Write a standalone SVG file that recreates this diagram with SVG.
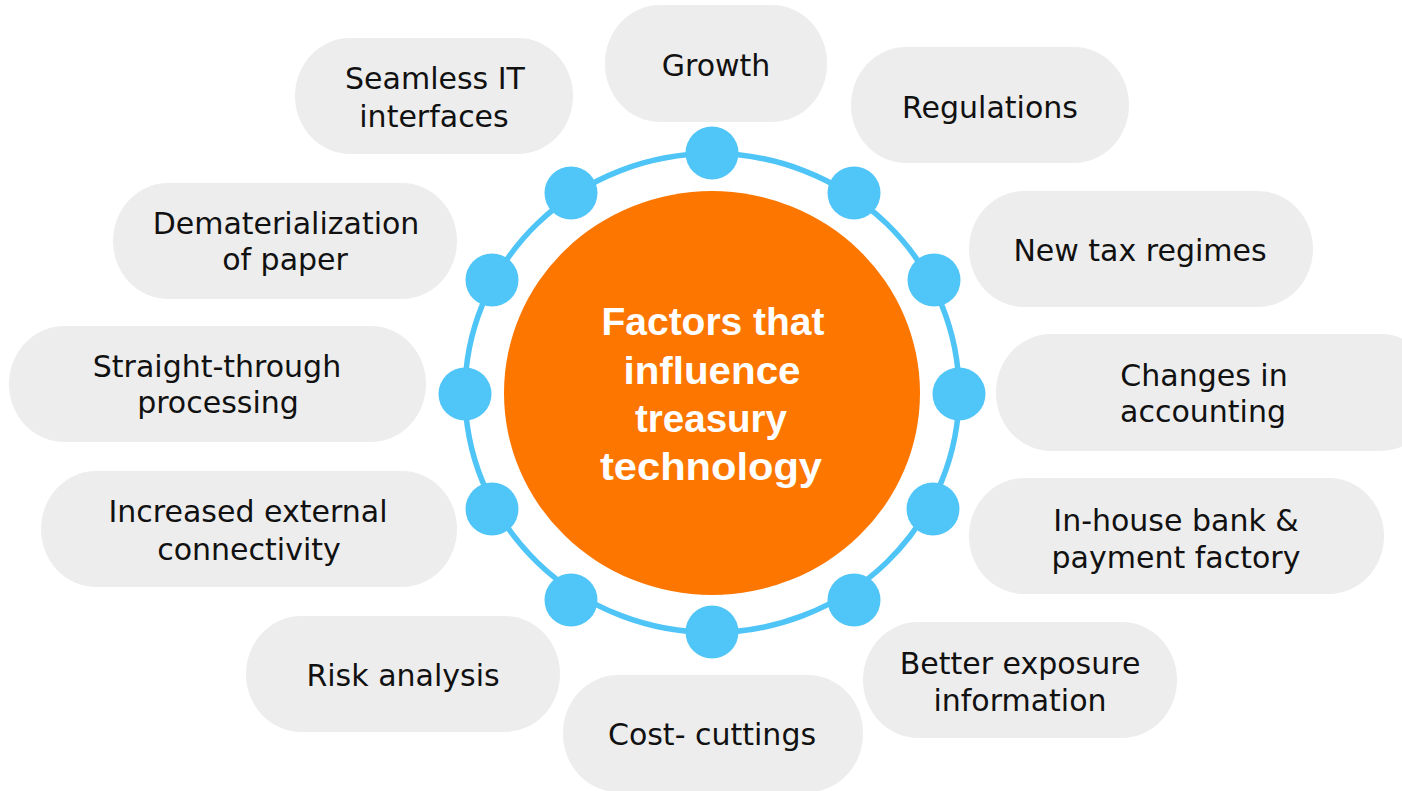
<svg xmlns="http://www.w3.org/2000/svg" width="1402" height="791" viewBox="0 0 1402 791">
  <style>
    .pill { fill: #EDEDED; }
    .label { font-family: "DejaVu Sans", "Liberation Sans", sans-serif; font-size: 30px; fill: #111111; text-anchor: middle; }
    .ring { fill: none; stroke: #4FC4F7; stroke-width: 5.5; }
    .dot { fill: #50C5F7; }
    .hub { fill: #FC7600; }
    .hub-text { font-family: "Liberation Sans", Arial, sans-serif; font-weight: bold; font-size: 38px; fill: #FFFFFF; text-anchor: middle; }
  </style>
  <rect width="1402" height="791" fill="#FFFFFF"/>

  <!-- ring with its twelve beads -->
  <g id="connectors">
    <ellipse class="ring" cx="712" cy="393" rx="247" ry="239.5"/>
    <circle class="dot" cx="712" cy="153" r="26.5"/>
    <circle class="dot" cx="571" cy="193" r="26.5"/>
    <circle class="dot" cx="854" cy="193" r="26.5"/>
    <circle class="dot" cx="492" cy="280" r="26.5"/>
    <circle class="dot" cx="934" cy="280" r="26.5"/>
    <circle class="dot" cx="465" cy="394" r="26.5"/>
    <circle class="dot" cx="959" cy="394" r="26.5"/>
    <circle class="dot" cx="492" cy="509" r="26.5"/>
    <circle class="dot" cx="933" cy="509" r="26.5"/>
    <circle class="dot" cx="571" cy="600" r="26.5"/>
    <circle class="dot" cx="854" cy="600" r="26.5"/>
    <circle class="dot" cx="712" cy="632" r="26.5"/>
  </g>

  <!-- central hub -->
  <g id="hub">
    <ellipse class="hub" cx="712" cy="393" rx="208" ry="202"/>
    <text class="hub-text" x="713" y="335" textLength="223" lengthAdjust="spacingAndGlyphs">Factors that</text>
    <text class="hub-text" x="712" y="384" textLength="177" lengthAdjust="spacingAndGlyphs">influence</text>
    <text class="hub-text" x="711" y="432" textLength="152" lengthAdjust="spacingAndGlyphs">treasury</text>
    <text class="hub-text" x="711" y="480" textLength="222" lengthAdjust="spacingAndGlyphs">technology</text>
  </g>

  <!-- factor pills -->
  <g id="growth">
    <rect class="pill" x="605" y="5" width="222" height="117" rx="55" ry="58"/>
    <text class="label" x="716" y="76">Growth</text>
  </g>
  <g id="seamless-it">
    <rect class="pill" x="295" y="38" width="278" height="116" rx="55" ry="58"/>
    <text class="label" x="435" y="89">Seamless IT</text>
    <text class="label" x="434" y="127">interfaces</text>
  </g>
  <g id="regulations">
    <rect class="pill" x="851" y="47" width="278" height="116" rx="55" ry="58"/>
    <text class="label" x="990" y="118">Regulations</text>
  </g>
  <g id="new-tax">
    <rect class="pill" x="969" y="191" width="344" height="116" rx="55" ry="58"/>
    <text class="label" x="1140" y="261">New tax regimes</text>
  </g>
  <g id="dematerialization">
    <rect class="pill" x="113" y="183" width="344" height="116" rx="55" ry="58"/>
    <text class="label" x="286" y="234">Dematerialization</text>
    <text class="label" x="285" y="270">of paper</text>
  </g>
  <g id="accounting">
    <rect class="pill" x="996" y="334" width="440" height="117" rx="55" ry="58"/>
    <text class="label" x="1204" y="386">Changes in</text>
    <text class="label" x="1203" y="422">accounting</text>
  </g>
  <g id="stp">
    <rect class="pill" x="9" y="326" width="417" height="116" rx="55" ry="58"/>
    <text class="label" x="217" y="377">Straight-through</text>
    <text class="label" x="218" y="413">processing</text>
  </g>
  <g id="in-house-bank">
    <rect class="pill" x="969" y="478" width="415" height="116" rx="55" ry="58"/>
    <text class="label" x="1176" y="531">In-house bank &amp;</text>
    <text class="label" x="1176" y="568">payment factory</text>
  </g>
  <g id="connectivity">
    <rect class="pill" x="41" y="471" width="416" height="116" rx="55" ry="58"/>
    <text class="label" x="248" y="522">Increased external</text>
    <text class="label" x="249" y="560">connectivity</text>
  </g>
  <g id="risk">
    <rect class="pill" x="246" y="616" width="314" height="116" rx="55" ry="58"/>
    <text class="label" x="403" y="686">Risk analysis</text>
  </g>
  <g id="exposure">
    <rect class="pill" x="863" y="622" width="314" height="116" rx="55" ry="58"/>
    <text class="label" x="1020" y="674">Better exposure</text>
    <text class="label" x="1020" y="711">information</text>
  </g>
  <g id="cost">
    <rect class="pill" x="563" y="675" width="300" height="117" rx="55" ry="58"/>
    <text class="label" x="712" y="745">Cost- cuttings</text>
  </g>
</svg>
